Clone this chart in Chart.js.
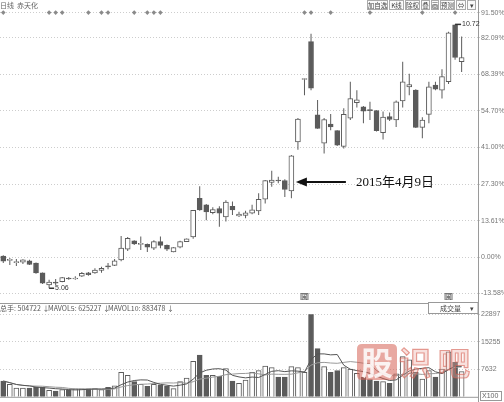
<!DOCTYPE html>
<html>
<head>
<meta charset="utf-8">
<script src="https://cdn.jsdelivr.net/npm/chart.js@4.4.0/dist/chart.umd.min.js"></script>
<style>
html,body{margin:0;padding:0;background:#fff;width:504px;height:402px;overflow:hidden;position:relative}
canvas{position:absolute;left:0}
#k{top:0}
#v{top:300px}
</style>
</head>
<body>
<canvas id="k" width="504" height="300"></canvas>
<canvas id="v" width="504" height="102"></canvas>
<script>
// 赤天化 daily K-line, prices in yuan; the percent axis is measured from basePrice
const basePrice = 5.73;
const open = [5.75,5.67,5.62,5.62,5.65,5.60,5.39,5.13,5.19,5.20,
  5.28,5.27,5.32,5.39,5.39,5.44,5.54,5.55,5.67,5.90,
  6.08,6.00,6.00,5.92,6.06,5.98,5.84,5.94,6.06,6.16,
  6.99,6.85,6.68,6.77,6.59,6.82,6.61,6.62,6.67,6.72,
  6.97,7.33,7.37,7.37,7.15,8.20,9.56,10.35,8.78,8.17,
  8.58,8.44,8.10,8.71,9.04,8.95,8.88,8.87,8.40,8.74,
  8.67,9.08,9.38,9.31,8.51,8.79,9.42,9.31,9.49,10.71,9.92];
const high = [5.77,5.71,5.69,5.68,5.67,5.61,5.40,5.24,5.26,5.30,
  5.30,5.32,5.41,5.41,5.49,5.52,5.60,5.69,6.18,6.16,
  6.09,6.17,6.02,6.09,6.17,6.00,5.94,6.08,6.13,6.74,
  7.25,6.87,6.80,6.82,6.95,6.92,6.70,6.72,6.85,7.10,
  7.38,7.58,7.45,7.40,7.92,8.71,9.56,10.52,9.10,8.71,
  8.80,8.45,8.92,9.49,9.31,8.97,9.06,8.88,8.85,8.83,
  9.09,9.92,9.66,9.33,8.73,9.49,9.49,9.76,10.56,10.72,10.46];
const low = [5.60,5.56,5.54,5.58,5.56,5.37,5.15,5.06,5.13,5.19,
  5.24,5.24,5.30,5.33,5.37,5.39,5.47,5.54,5.64,5.86,
  5.99,5.88,5.84,5.88,5.92,5.86,5.83,5.92,6.05,6.12,
  6.72,6.52,6.65,6.38,6.49,6.63,6.59,6.56,6.65,6.63,
  6.88,7.24,7.31,7.02,6.99,8.03,9.20,9.31,8.48,7.95,
  8.45,8.11,8.06,8.67,8.94,8.60,8.67,8.42,8.25,8.65,
  8.52,8.94,9.20,8.50,8.28,8.60,9.31,9.13,9.44,9.96,9.70];
const close = [5.64,5.68,5.63,5.67,5.57,5.39,5.17,5.19,5.18,5.29,
  5.26,5.28,5.38,5.35,5.45,5.49,5.53,5.65,5.92,6.13,
  6.01,6.01,5.94,6.06,5.98,5.90,5.93,6.06,6.12,6.73,
  6.74,6.70,6.75,6.67,6.91,6.74,6.65,6.68,6.74,6.97,
  7.37,7.38,7.36,7.18,7.90,8.69,9.56,9.35,8.49,8.68,
  8.52,8.13,8.79,9.13,9.10,8.86,8.87,8.44,8.73,8.68,
  9.06,9.49,9.43,8.51,8.67,9.38,9.33,9.60,10.54,10.01,10.01];
// volume in lots of 100 shares (axis unit X100)
const volume = [4370,3480,2430,2430,2430,2700,2700,1830,1570,2010,
  1920,2180,2180,2180,2270,2010,2620,3060,6800,5940,
  4190,3480,2880,3480,3320,2880,2270,4190,5230,9870,
  11600,5940,5940,5680,7850,4370,3740,4630,6800,7250,
  8560,8110,5500,5500,8370,8110,6800,22897,13350,8370,
  6800,7250,8110,7680,6500,5500,4800,4370,4190,3740,
  6370,11170,10290,6800,4890,7250,5500,7680,12480,9600,6980];
const pctTicks = [-13.58, 0, 13.61, 27.30, 41.00, 54.70, 68.39, 82.09, 91.50];
const volTicks = [7632, 15255, 22897];
const slotCount = 73;                 // trading-day slots on the axis (two left open at the right)
const infoMarks = [0,7,8,9,13,15,16,20,22,23,24,46,47,50,56,64,69];
const flagDays = [46, 68];
const noteDay = 44;
const notePrice = 7.34;
const noteText = '2015年4月9日';
const highDay = 69, lowDay = 7;

const slots = Array.from({length: slotCount}, (_, i) => String(i + 1));
const pct = p => (p / basePrice - 1) * 100;
const ink = '#5b5b5b';
const up = close.map((c, i) => c >= open[i]);
const movingAvg = n => volume.map((_, i) => {
  const s = volume.slice(Math.max(0, i - n + 1), i + 1);
  return s.reduce((a, b) => a + b, 0) / s.length;
});
const sans = '"Liberation Sans", Arial, sans-serif';
const cjk = '"Noto Sans CJK SC", sans-serif';

function diamond(ctx, cx, cy, r) {
  ctx.beginPath();
  ctx.moveTo(cx, cy - r); ctx.lineTo(cx + r, cy); ctx.lineTo(cx, cy + r); ctx.lineTo(cx - r, cy);
  ctx.closePath(); ctx.fill();
}

const kOverlay = {
  id: 'kOverlay',
  afterDraw(chart) {
    const {ctx, chartArea: a, scales: {x, y}} = chart;
    ctx.save();
    // frame on the right
    ctx.strokeStyle = '#9a9a9a'; ctx.lineWidth = 1;
    ctx.beginPath(); ctx.moveTo(a.right + 0.5, 0); ctx.lineTo(a.right + 0.5, chart.height); ctx.stroke();

    // title row
    ctx.fillStyle = '#666'; ctx.textBaseline = 'middle'; ctx.textAlign = 'left';
    ctx.font = '7px ' + cjk;
    ctx.fillText('日线', 0, 5.5);
    ctx.fillText('赤天化', 17, 5.5);

    // toolbar buttons
    const buttons = [['加自选', 21], ['K线', 15], ['除权', 15], ['叠', 9], ['画', 8], ['预测', 15], ['⇔', 10], ['▾', 9]];
    let bx = 367;
    ctx.font = '6.5px ' + cjk;
    for (const [t, w] of buttons) {
      ctx.fillStyle = '#fafafa'; ctx.fillRect(bx, 0.5, w, 9);
      ctx.strokeStyle = '#aaa'; ctx.strokeRect(bx + 0.5, 0.5, w - 1, 9);
      ctx.fillStyle = '#444'; ctx.textAlign = 'center';
      ctx.fillText(t, bx + w / 2, 5.5);
      bx += w + 1;
    }

    // information markers along the top line
    ctx.fillStyle = '#8a8a8a';
    const topY = y.getPixelForValue(pctTicks[pctTicks.length - 1]);
    for (const i of infoMarks) diamond(ctx, x.getPixelForValue(i), topY, 2.3);

    // highest and lowest price marks
    ctx.strokeStyle = '#333'; ctx.fillStyle = '#333'; ctx.textAlign = 'left';
    ctx.font = '7px ' + sans;
    let hx = x.getPixelForValue(highDay), hy = y.getPixelForValue(pct(high[highDay]));
    ctx.lineWidth = 1.5;
    ctx.beginPath(); ctx.moveTo(hx, hy); ctx.lineTo(hx + 6, hy); ctx.stroke();
    ctx.fillText(high[highDay].toFixed(2), hx + 7, hy);
    let lx = x.getPixelForValue(lowDay), ly = y.getPixelForValue(pct(low[lowDay]));
    ctx.beginPath(); ctx.moveTo(lx, ly); ctx.lineTo(lx + 5, ly); ctx.stroke();
    ctx.fillText(low[lowDay].toFixed(2), lx + 6, ly);

    // note arrow
    const tipX = x.getPixelForValue(noteDay) + 4.5;
    const tipY = y.getPixelForValue(pct(notePrice));
    ctx.strokeStyle = '#111'; ctx.fillStyle = '#111'; ctx.lineWidth = 2;
    ctx.beginPath(); ctx.moveTo(tipX + 8, tipY); ctx.lineTo(tipX + 50, tipY); ctx.stroke();
    ctx.beginPath(); ctx.moveTo(tipX, tipY); ctx.lineTo(tipX + 11, tipY - 4.5); ctx.lineTo(tipX + 11, tipY + 4.5); ctx.closePath(); ctx.fill();
    ctx.font = '13px "Liberation Serif", ' + cjk;
    ctx.fillText(noteText, tipX + 60, tipY + 1);

    // event flags under the candles
    ctx.font = '6px ' + cjk; ctx.textAlign = 'center';
    for (const i of flagDays) {
      const fx = x.getPixelForValue(i);
      ctx.fillStyle = '#e8e8e8'; ctx.fillRect(fx - 3.5, 293.5, 7, 6.5);
      ctx.strokeStyle = '#777'; ctx.lineWidth = 1; ctx.strokeRect(fx - 3.5, 293.5, 7, 6.5);
      ctx.fillStyle = '#555'; ctx.fillText('闽', fx, 297);
    }
    ctx.restore();
  }
};

new Chart(document.getElementById('k'), {
  type: 'bar',
  data: {
    labels: slots,
    datasets: [
      { label: 'range', data: high.map((h, i) => [pct(low[i]), pct(h)]),
        backgroundColor: ink, barThickness: 1, grouped: false, order: 2, inflateAmount: 0 },
      { label: 'body', data: open.map((o, i) => [pct(o), pct(close[i])]),
        backgroundColor: up.map(u => u ? '#fff' : ink), borderColor: ink, borderWidth: 1,
        borderSkipped: false, barThickness: 5, minBarLength: 1, grouped: false, order: 1 }
    ]
  },
  options: {
    responsive: false, animation: false, devicePixelRatio: 1,
    layout: { padding: { top: 12.6, bottom: 6.7, left: 0, right: 0 } },
    plugins: { legend: { display: false }, tooltip: { enabled: false } },
    scales: {
      x: { display: false, offset: true },
      y: {
        position: 'right', min: -13.58, max: 91.50,
        afterBuildTicks: s => { s.ticks = pctTicks.map(v => ({ value: v })); },
        afterFit: s => { s.width = 26; },
        ticks: { callback: v => Number(v).toFixed(2) + '%', color: '#777', padding: 1, font: { size: 7, family: sans } },
        grid: { color: '#cdcdcd', tickLength: 2 },
        border: { display: true, color: '#9a9a9a', dash: [1, 2] }
      }
    }
  },
  plugins: [kOverlay]
});

const vOverlay = {
  id: 'vOverlay',
  afterDraw(chart) {
    const {ctx, chartArea: a} = chart;
    ctx.save();
    ctx.strokeStyle = '#9a9a9a'; ctx.lineWidth = 1;
    ctx.beginPath(); ctx.moveTo(a.right + 0.5, 0); ctx.lineTo(a.right + 0.5, chart.height); ctx.stroke();
    ctx.beginPath(); ctx.moveTo(0, 3.5); ctx.lineTo(a.right, 3.5); ctx.stroke();
    ctx.beginPath(); ctx.moveTo(0, a.bottom + 0.5); ctx.lineTo(a.right, a.bottom + 0.5); ctx.stroke();

    // indicator readout
    ctx.fillStyle = '#555'; ctx.textBaseline = 'middle'; ctx.textAlign = 'left';
    ctx.font = '7px ' + cjk;
    ctx.fillText('总手: 504722 ↓', 0, 8.5);
    ctx.fillText('MAVOL5: 625227 ↓', 48, 8.5);
    ctx.fillText('MAVOL10: 883478 ↓', 108, 8.5);

    // indicator selector
    ctx.fillStyle = '#fff'; ctx.fillRect(428.5, 2.5, 49.5, 11);
    ctx.strokeStyle = '#999'; ctx.strokeRect(428.5, 2.5, 49.5, 11);
    ctx.fillStyle = '#444';
    ctx.fillText('成交量', 440, 8.2);
    ctx.fillText('▾', 470, 8);

    // unit tag
    ctx.font = '7px ' + sans;
    ctx.strokeStyle = '#999'; ctx.strokeRect(480.5, 91.5, 21, 9);
    ctx.fillStyle = '#666'; ctx.fillText('X100', 482, 96.5);

    // site mark
    ctx.fillStyle = 'rgba(214,96,84,0.55)';
    const r = 5, bx0 = 357, by0 = 44, bw = 40, bh = 36;
    ctx.beginPath();
    ctx.moveTo(bx0 + r, by0); ctx.lineTo(bx0 + bw - r, by0); ctx.quadraticCurveTo(bx0 + bw, by0, bx0 + bw, by0 + r);
    ctx.lineTo(bx0 + bw, by0 + bh - r); ctx.quadraticCurveTo(bx0 + bw, by0 + bh, bx0 + bw - r, by0 + bh);
    ctx.lineTo(bx0 + r, by0 + bh); ctx.quadraticCurveTo(bx0, by0 + bh, bx0, by0 + bh - r);
    ctx.lineTo(bx0, by0 + r); ctx.quadraticCurveTo(bx0, by0, bx0 + r, by0); ctx.closePath(); ctx.fill();
    ctx.font = 'bold 32px ' + cjk; ctx.textAlign = 'center';
    ctx.fillStyle = 'rgba(255,255,255,0.85)';
    ctx.fillText('股', bx0 + bw / 2, by0 + bh / 2 + 1);
    ctx.fillStyle = 'rgba(236,170,160,0.35)';
    ctx.strokeStyle = 'rgba(214,96,84,0.6)'; ctx.lineWidth = 1.2;
    ctx.fillText('识', 415, by0 + bh / 2 + 1);
    ctx.strokeText('识', 415, by0 + bh / 2 + 1);
    ctx.fillText('吧', 454, by0 + bh / 2 + 1);
    ctx.strokeText('吧', 454, by0 + bh / 2 + 1);
    ctx.restore();
  }
};

new Chart(document.getElementById('v'), {
  type: 'bar',
  data: {
    labels: slots,
    datasets: [
      { type: 'line', label: 'MAVOL5', data: movingAvg(5), borderColor: '#555', borderWidth: 1, pointRadius: 0, order: 0 },
      { type: 'line', label: 'MAVOL10', data: movingAvg(10), borderColor: '#999', borderWidth: 1, pointRadius: 0, order: 0 },
      { label: '成交量', data: volume, backgroundColor: up.map(u => u ? '#fff' : ink), borderColor: ink,
        borderWidth: 1, barThickness: 5, order: 1 }
    ]
  },
  options: {
    responsive: false, animation: false, devicePixelRatio: 1,
    layout: { padding: { top: 14.3, bottom: 1, left: 0, right: 0 } },
    plugins: { legend: { display: false }, tooltip: { enabled: false } },
    scales: {
      x: { display: false, offset: true },
      y: {
        position: 'right', min: 0, max: 22897,
        afterBuildTicks: s => { s.ticks = volTicks.map(v => ({ value: v })); },
        afterFit: s => { s.width = 26; },
        ticks: { callback: v => String(v), color: '#777', padding: 1, font: { size: 7, family: sans } },
        grid: { color: '#cdcdcd', tickLength: 2 },
        border: { display: true, color: '#9a9a9a', dash: [1, 2] }
      }
    }
  },
  plugins: [vOverlay]
});
</script>
</body>
</html>
